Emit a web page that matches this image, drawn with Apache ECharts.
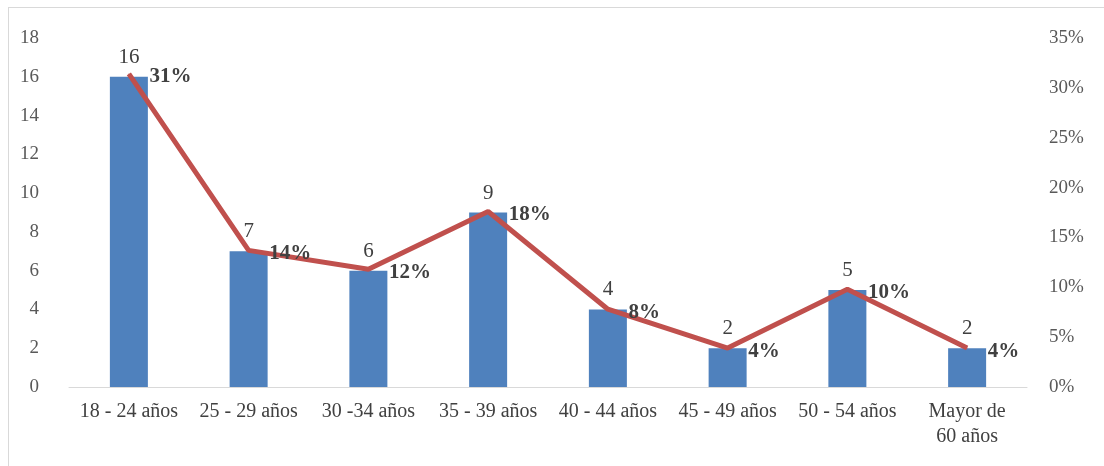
<!DOCTYPE html>
<html>
<head>
<meta charset="utf-8">
<script src="https://cdn.jsdelivr.net/npm/echarts@6/dist/echarts.min.js"></script>
</head>
<body style="margin:0;background:#fff">
<div id="main" style="position:absolute;left:8px;top:7px;width:1100px;height:470px;border:1px solid #d9d9d9;"></div>
<script type="text/javascript">
var categories = ['18 - 24 años', '25 - 29 años', '30 -34 años', '35 - 39 años', '40 - 44 años', '45 - 49 años', '50 - 54 años', 'Mayor de\n60 años'];
var counts = [16, 7, 6, 9, 4, 2, 5, 2];
var percents = [0.314, 0.137, 0.118, 0.176, 0.078, 0.039, 0.098, 0.039];

var myChart = echarts.init(document.getElementById('main'));
var font = 'Liberation Serif';
var option = {
    textStyle: {fontFamily: font},
    grid: {left: 60, right: 82, top: 30, bottom: 91},
    xAxis: {
        type: 'category',
        data: categories,
        axisTick: {show: false},
        axisLine: {lineStyle: {color: '#d9d9d9'}},
        axisLabel: {color: '#404040', fontSize: 20, fontFamily: font, interval: 0, lineHeight: 25, margin: 12}
    },
    yAxis: [{
        type: 'value', min: 0, max: 18, interval: 2,
        splitLine: {show: false},
        axisLabel: {color: '#595959', fontSize: 19, fontFamily: font, margin: 30}
    }, {
        type: 'value', min: 0, max: 0.35, interval: 0.05,
        splitLine: {show: false},
        axisLabel: {color: '#595959', fontSize: 19, fontFamily: font, margin: 22, align: 'left',
            formatter: function (v) { return Math.round(v * 100) + '%'; }}
    }],
    series: [{
        type: 'bar',
        data: counts,
        barWidth: 38,
        itemStyle: {color: '#4F81BD'},
        label: {show: true, position: 'top', color: '#404040', fontSize: 21, fontFamily: font, distance: 9}
    }, {
        type: 'line',
        yAxisIndex: 1,
        data: percents,
        symbol: 'circle',
        symbolSize: 1,
        showSymbol: true,
        lineStyle: {color: '#C0504D', width: 5},
        itemStyle: {color: '#C0504D'},
        label: {show: true, position: 'right', color: '#404040', fontSize: 21, fontWeight: 'bold', fontFamily: font, distance: 20, offset: [0, 3],
            formatter: function (p) { return Math.round(p.value * 100) + '%'; }}
    }]
};
myChart.setOption(option);
</script>
</body>
</html>
